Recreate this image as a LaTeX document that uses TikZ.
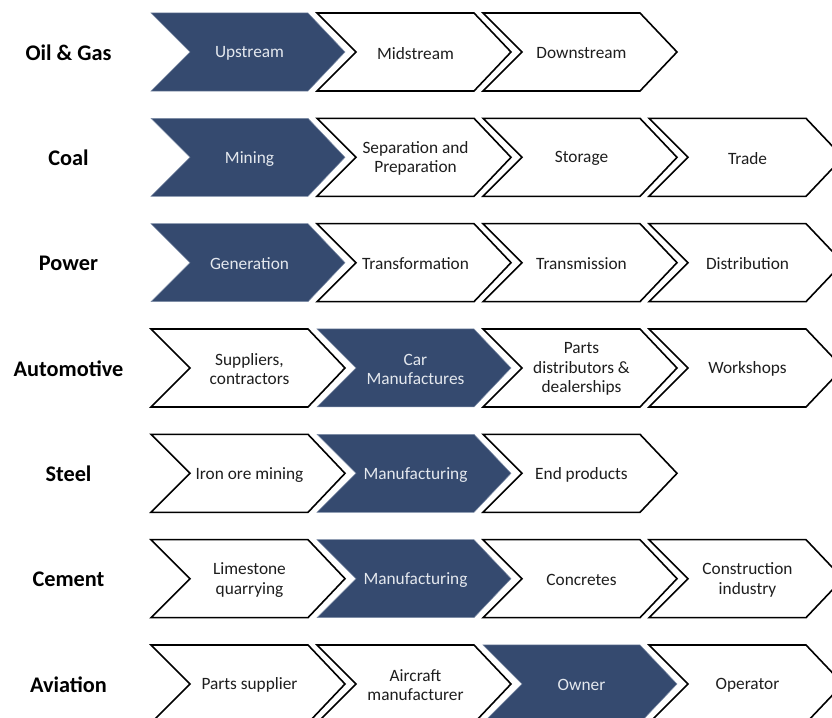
\documentclass[tikz,border=0pt]{standalone}
\usepackage{fontspec}
\setmainfont{Carlito}
\definecolor{navy}{HTML}{354A6F}
\definecolor{navyedge}{HTML}{7F8EA8}
\definecolor{darktext}{HTML}{1E1E1E}
\definecolor{lighttext}{HTML}{E4E8EE}
\tikzset{
  chevwhite/.style={draw=black, line width=1.6pt, fill=white, line join=miter},
  chevnavy/.style={draw=navyedge, line width=0.5pt, fill=navy, line join=miter},
  txtwhite/.style={text=darktext, align=center, font=\fontsize{17.3}{19.5}\selectfont, inner sep=0pt},
  txtnavy/.style={text=lighttext, align=center, font=\fontsize{17.3}{19.5}\selectfont, inner sep=0pt},
  rowlabel/.style={text=black, font=\fontsize{22.3}{26}\selectfont\bfseries, inner sep=0pt}
}
% #1 col, #2 row, #3 kind (white/navy), #4 name, #5 text
\newcommand{\chev}[5]{%
  \pgfmathsetmacro{\Lx}{151+166*#1}%
  \pgfmathsetmacro{\Ty}{13+105.33*#2}%
  \path[chev#3] (\Lx,\Ty) -- ++(157,0) -- ++(37,39) -- ++(-37,39) -- ++(-157,0) -- ++(39,-39) -- cycle;
  \node[txt#3] (#4) at (\Lx+98.5,\Ty+40.3) {#5};%
}
\newcommand{\rowlab}[3]{%
  \pgfmathsetmacro{\Ty}{13+105.33*#1}%
  \node[rowlabel] (#2) at (68.5,\Ty+39.5) {#3};%
}
\begin{document}
\begin{tikzpicture}[x=1pt,y=-1pt]
\useasboundingbox (0,0) rectangle (832,717);
\fill[white] (0,0) rectangle (832,717);
% Oil & Gas
\rowlab{0}{oilgas}{Oil \& Gas}
\chev{0}{0}{navy}{og1}{Upstream}
\chev{1}{0}{white}{og2}{Midstream}
\chev{2}{0}{white}{og3}{Downstream}
% Coal
\rowlab{1}{coal}{Coal}
\chev{0}{1}{navy}{co1}{Mining}
\chev{1}{1}{white}{co2}{Separation and\\Preparation}
\chev{2}{1}{white}{co3}{Storage}
\chev{3}{1}{white}{co4}{Trade}
% Power
\rowlab{2}{power}{Power}
\chev{0}{2}{navy}{po1}{Generation}
\chev{1}{2}{white}{po2}{Transformation}
\chev{2}{2}{white}{po3}{Transmission}
\chev{3}{2}{white}{po4}{Distribution}
% Automotive
\rowlab{3}{auto}{Automotive}
\chev{0}{3}{white}{au1}{Suppliers,\\contractors}
\chev{1}{3}{navy}{au2}{Car\\Manufactures}
\chev{2}{3}{white}{au3}{Parts\\distributors \&\\dealerships}
\chev{3}{3}{white}{au4}{Workshops}
% Steel
\rowlab{4}{steel}{Steel}
\chev{0}{4}{white}{st1}{Iron ore mining}
\chev{1}{4}{navy}{st2}{Manufacturing}
\chev{2}{4}{white}{st3}{End products}
% Cement
\rowlab{5}{cement}{Cement}
\chev{0}{5}{white}{ce1}{Limestone\\quarrying}
\chev{1}{5}{navy}{ce2}{Manufacturing}
\chev{2}{5}{white}{ce3}{Concretes}
\chev{3}{5}{white}{ce4}{Construction\\industry}
% Aviation
\rowlab{6}{aviation}{Aviation}
\chev{0}{6}{white}{av1}{Parts supplier}
\chev{1}{6}{white}{av2}{Aircraft\\manufacturer}
\chev{2}{6}{navy}{av3}{Owner}
\chev{3}{6}{white}{av4}{Operator}
\end{tikzpicture}
\end{document}
